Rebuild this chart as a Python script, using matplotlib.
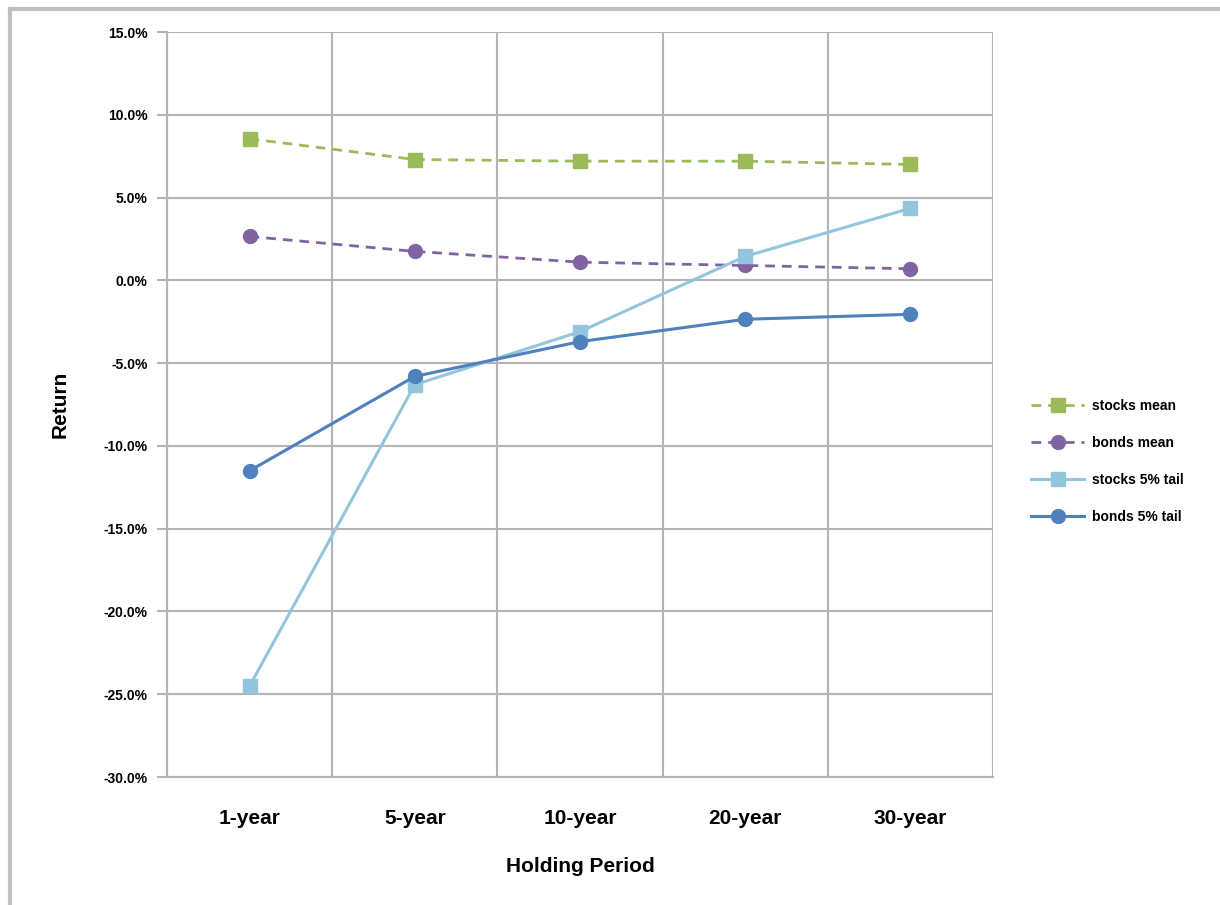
import matplotlib
matplotlib.use("Agg")
import matplotlib.pyplot as plt
from matplotlib.ticker import FuncFormatter, FixedLocator
from matplotlib.lines import Line2D

periods = ["1-year", "5-year", "10-year", "20-year", "30-year"]
stocks_mean = [8.55, 7.3, 7.2, 7.2, 7.0]
bonds_mean = [2.65, 1.75, 1.1, 0.9, 0.7]
stocks_tail = [-24.5, -6.3, -3.1, 1.45, 4.35]
bonds_tail = [-11.5, -5.8, -3.7, -2.35, -2.05]

font = ["Liberation Sans Narrow", "Liberation Sans", "DejaVu Sans"]
grid_c = "#b4b4b4"

fig = plt.figure(figsize=(12.2, 9.05), dpi=100)
ax = fig.add_axes([0.1369, 0.1414, 0.8139 - 0.1369, 0.9646 - 0.1414])

x = list(range(len(periods)))
ax.plot(x, stocks_mean, "--s", color="#9bbb59", lw=2, ms=10, label="stocks mean", dashes=(3.5, 2.5))
ax.plot(x, bonds_mean, "--o", color="#8064a2", lw=2, ms=10, label="bonds mean", dashes=(3.5, 2.5))
ax.plot(x, stocks_tail, "-s", color="#93c6dc", lw=2.2, ms=10, label="stocks 5% tail")
ax.plot(x, bonds_tail, "-o", color="#4f81bd", lw=2.2, ms=10, label="bonds 5% tail")

ax.set_xlim(-0.5, len(periods) - 0.5)
ax.set_ylim(-30, 15)
ax.set_yticks(range(-30, 16, 5))
ax.yaxis.set_major_formatter(FuncFormatter(lambda v, p: f"{v:.1f}%"))
ax.set_xticks(x)
ax.set_xticklabels(periods)
ax.xaxis.set_minor_locator(FixedLocator([i - 0.5 for i in range(len(periods) + 1)]))

ax.grid(True, axis="y", which="major", color=grid_c, lw=1.5)
ax.grid(True, axis="x", which="minor", color=grid_c, lw=1.5)
ax.set_axisbelow(True)
for s in ["top", "right"]:
    ax.spines[s].set_visible(False)
for s in ["left", "bottom"]:
    ax.spines[s].set_color(grid_c)
    ax.spines[s].set_linewidth(1.5)

ax.tick_params(axis="y", which="major", length=7, width=1.5, color=grid_c, pad=7)
ax.tick_params(axis="x", which="major", length=0, pad=23)
ax.tick_params(axis="x", which="minor", length=0)

for lab in ax.get_yticklabels():
    lab.set_fontfamily(font)
    lab.set_fontweight("bold")
    lab.set_fontsize(10)
for lab in ax.get_xticklabels():
    lab.set_fontfamily(font)
    lab.set_fontweight("bold")
    lab.set_fontsize(15)

ax.set_ylabel("Return", family=font, fontweight="bold", fontsize=15, labelpad=24)
ax.set_xlabel("Holding Period", family=font, fontweight="bold", fontsize=15, labelpad=21)

leg = fig.legend(loc="center left", bbox_to_anchor=(0.835, 0.49), frameon=False,
                 prop={"family": font, "weight": "bold", "size": 10},
                 handlelength=3.8, labelspacing=1.65, handletextpad=0.6)

# partial frame around the chart area
fig.add_artist(Line2D([0.0082, 1.0], [0.99, 0.99], color="#c0c0c0", lw=3, transform=fig.transFigure))
fig.add_artist(Line2D([0.0082, 0.0082], [0.0, 0.99], color="#c0c0c0", lw=3, transform=fig.transFigure))

fig.savefig("out.png", dpi=100)
